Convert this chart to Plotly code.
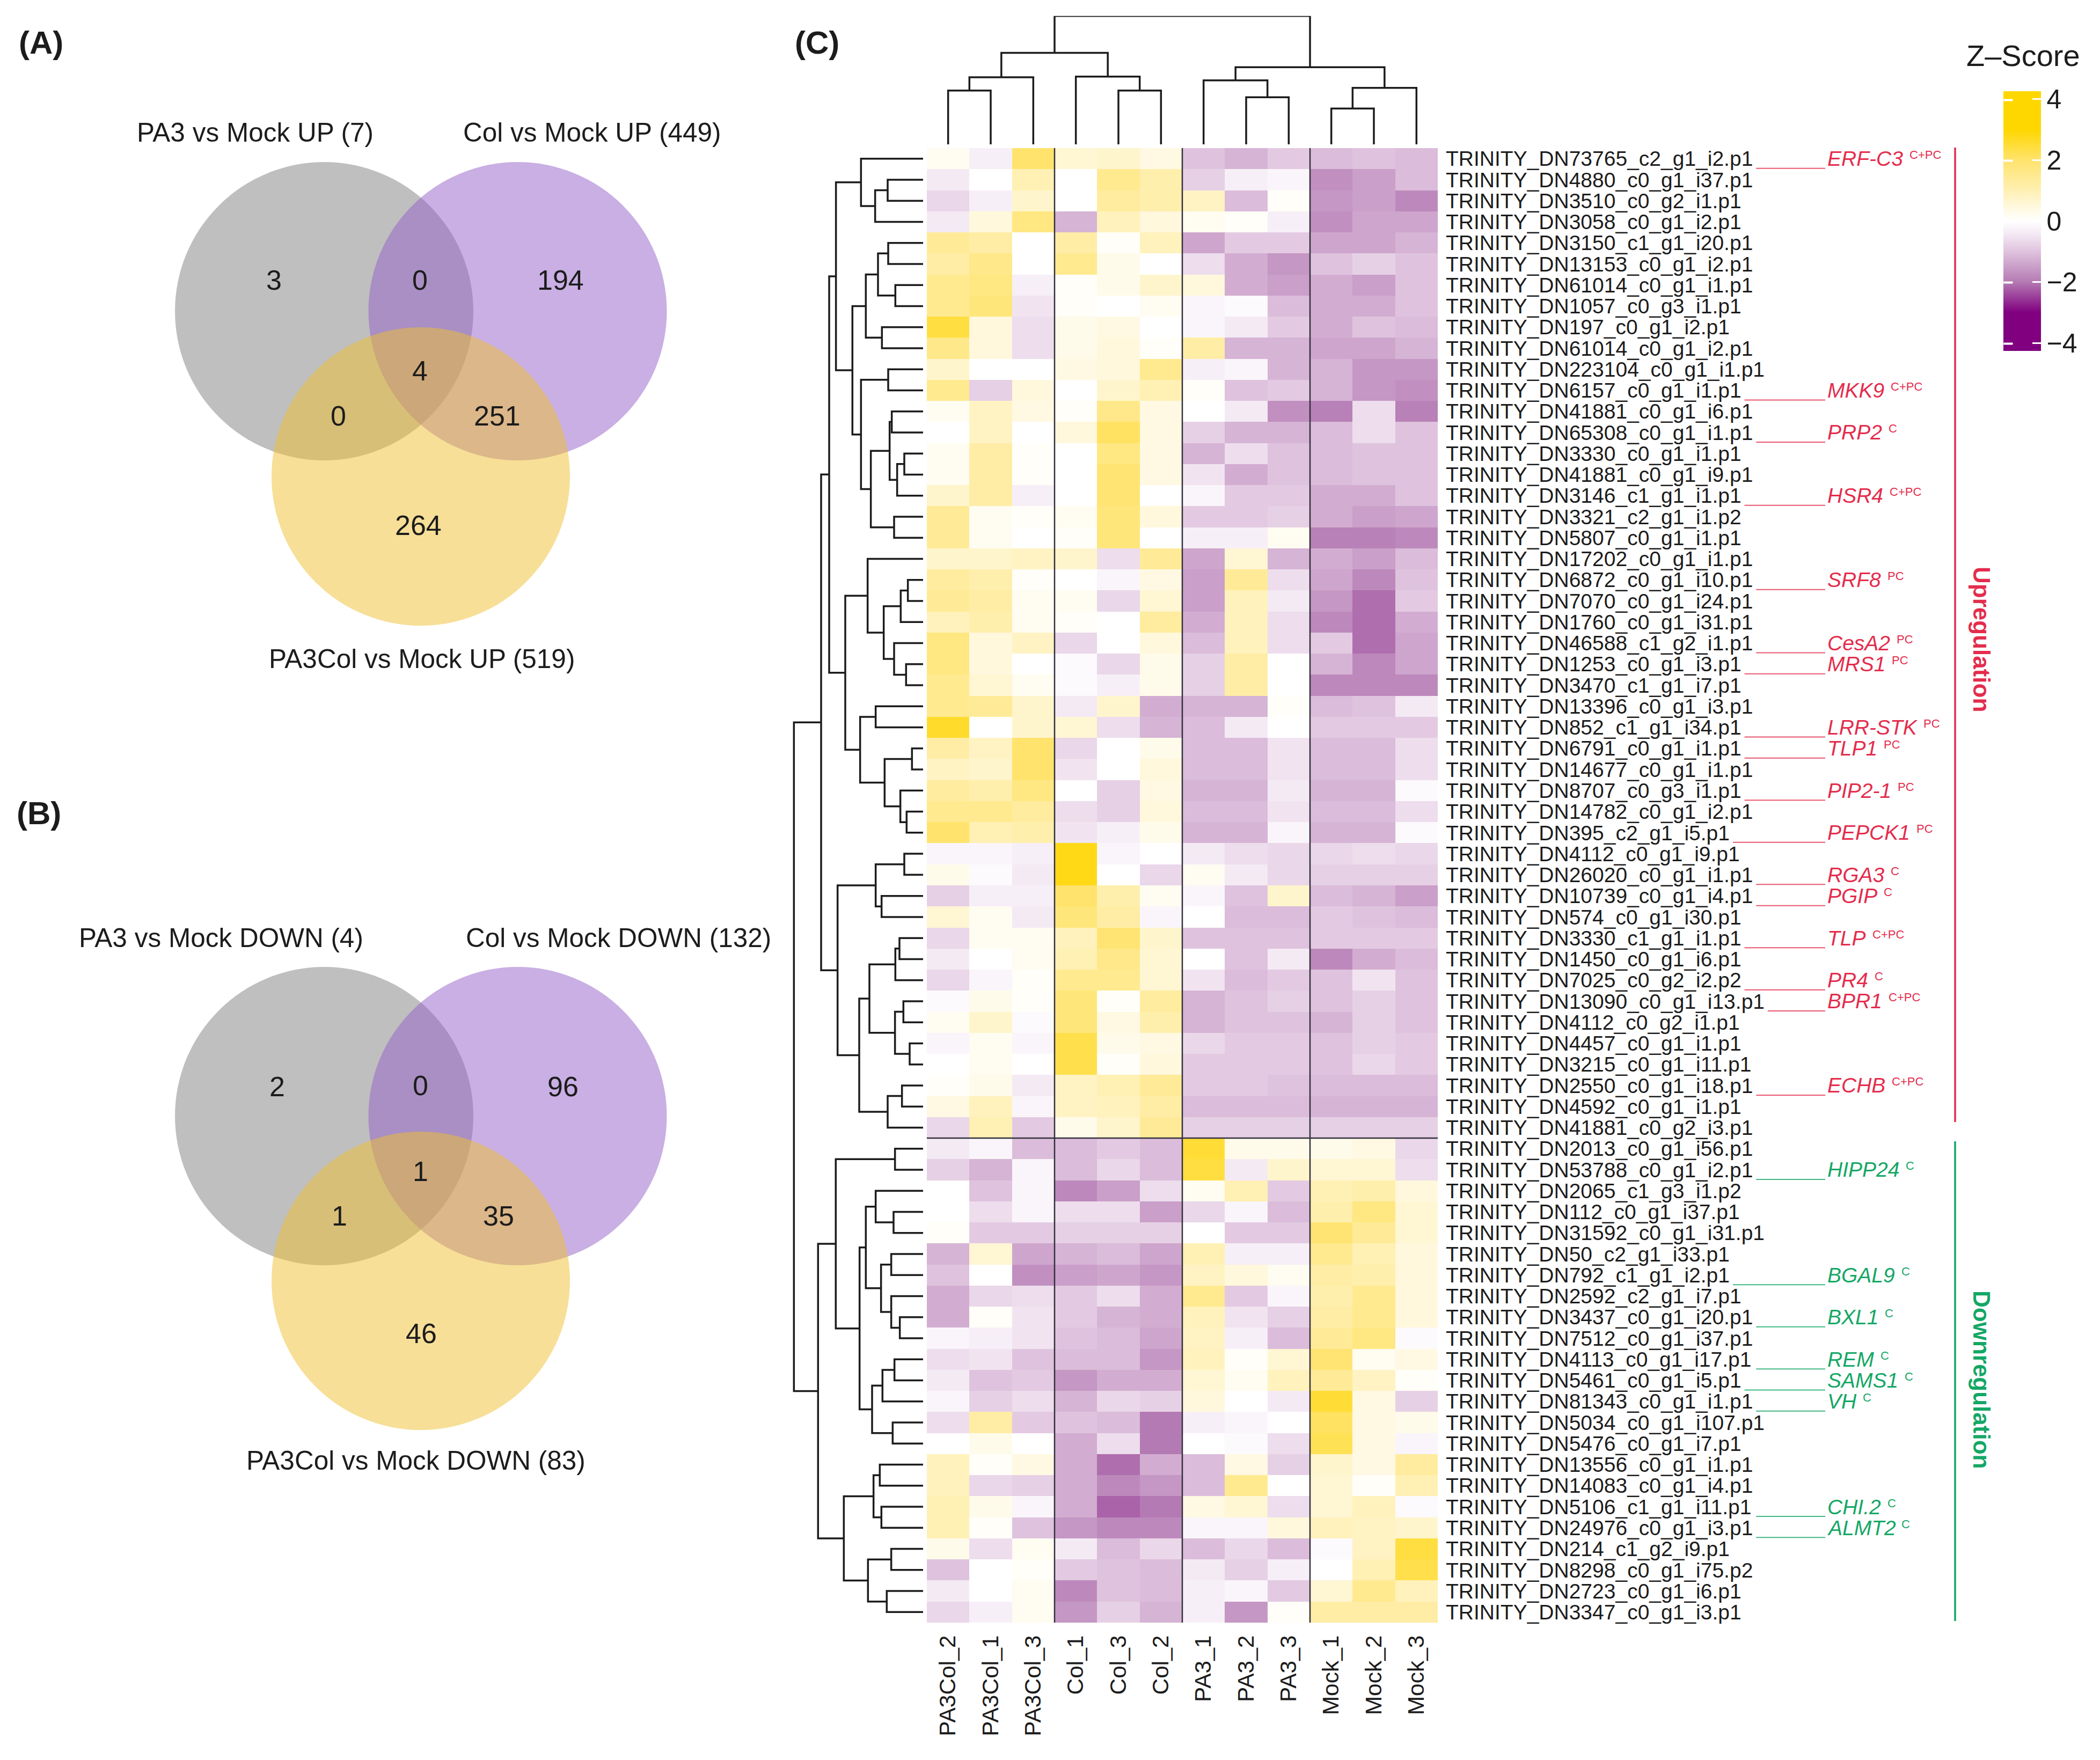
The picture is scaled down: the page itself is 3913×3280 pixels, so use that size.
import plotly.graph_objects as go

W, H = 3913, 3280

# ---------- data ----------
samples = ["PA3Col_2", "PA3Col_1", "PA3Col_3", "Col_1", "Col_3", "Col_2",
           "PA3_1", "PA3_2", "PA3_3", "Mock_1", "Mock_2", "Mock_3"]

transcripts = [
    "DN73765_c2_g1_i2.p1", "DN4880_c0_g1_i37.p1", "DN3510_c0_g2_i1.p1", "DN3058_c0_g1_i2.p1",
    "DN3150_c1_g1_i20.p1", "DN13153_c0_g1_i2.p1", "DN61014_c0_g1_i1.p1", "DN1057_c0_g3_i1.p1",
    "DN197_c0_g1_i2.p1", "DN61014_c0_g1_i2.p1", "DN223104_c0_g1_i1.p1", "DN6157_c0_g1_i1.p1",
    "DN41881_c0_g1_i6.p1", "DN65308_c0_g1_i1.p1", "DN3330_c0_g1_i1.p1", "DN41881_c0_g1_i9.p1",
    "DN3146_c1_g1_i1.p1", "DN3321_c2_g1_i1.p2", "DN5807_c0_g1_i1.p1", "DN17202_c0_g1_i1.p1",
    "DN6872_c0_g1_i10.p1", "DN7070_c0_g1_i24.p1", "DN1760_c0_g1_i31.p1", "DN46588_c1_g2_i1.p1",
    "DN1253_c0_g1_i3.p1", "DN3470_c1_g1_i7.p1", "DN13396_c0_g1_i3.p1", "DN852_c1_g1_i34.p1",
    "DN6791_c0_g1_i1.p1", "DN14677_c0_g1_i1.p1", "DN8707_c0_g3_i1.p1", "DN14782_c0_g1_i2.p1",
    "DN395_c2_g1_i5.p1", "DN4112_c0_g1_i9.p1", "DN26020_c0_g1_i1.p1", "DN10739_c0_g1_i4.p1",
    "DN574_c0_g1_i30.p1", "DN3330_c1_g1_i1.p1", "DN1450_c0_g1_i6.p1", "DN7025_c0_g2_i2.p2",
    "DN13090_c0_g1_i13.p1", "DN4112_c0_g2_i1.p1", "DN4457_c0_g1_i1.p1", "DN3215_c0_g1_i11.p1",
    "DN2550_c0_g1_i18.p1", "DN4592_c0_g1_i1.p1", "DN41881_c0_g2_i3.p1", "DN2013_c0_g1_i56.p1",
    "DN53788_c0_g1_i2.p1", "DN2065_c1_g3_i1.p2", "DN112_c0_g1_i37.p1", "DN31592_c0_g1_i31.p1",
    "DN50_c2_g1_i33.p1", "DN792_c1_g1_i2.p1", "DN2592_c2_g1_i7.p1", "DN3437_c0_g1_i20.p1",
    "DN7512_c0_g1_i37.p1", "DN4113_c0_g1_i17.p1", "DN5461_c0_g1_i5.p1", "DN81343_c0_g1_i1.p1",
    "DN5034_c0_g1_i107.p1", "DN5476_c0_g1_i7.p1", "DN13556_c0_g1_i1.p1", "DN14083_c0_g1_i4.p1",
    "DN5106_c1_g1_i11.p1", "DN24976_c0_g1_i3.p1", "DN214_c1_g2_i9.p1", "DN8298_c0_g1_i75.p2",
    "DN2723_c0_g1_i6.p1", "DN3347_c0_g1_i3.p1"]
row_labels = ["TRINITY_" + t for t in transcripts]

zscores = [
    [0.2, -0.3, 2.0, 0.6, 0.7, 0.4, -1.0, -1.2, -0.9, -1.1, -1.0, -1.1],
    [-0.4, 0, 1.0, 0, 1.5, 1.1, -0.8, -0.3, -0.2, -1.7, -1.5, -1.1],
    [-0.7, -0.3, 0.7, 0, 1.3, 1.1, 0.8, -1.1, 0.1, -1.6, -1.5, -1.8],
    [-0.4, 0.5, 1.7, -1.2, 0.9, 0.5, 0.2, 0.1, -0.3, -1.7, -1.4, -1.4],
    [1.4, 1.2, 0, 1.2, 0.1, 0.9, -1.4, -0.9, -0.9, -1.4, -1.4, -1.2],
    [1.2, 1.6, 0, 1.5, 0.3, 0, -0.6, -1.3, -1.6, -1.0, -0.8, -1.0],
    [1.5, 1.7, -0.3, 0.1, 0.3, 0.7, 0.5, -1.3, -1.5, -1.3, -1.5, -1.0],
    [1.5, 1.8, -0.5, 0.1, 0, 0.2, -0.2, -0.1, -1.1, -1.3, -1.3, -1.0],
    [2.4, 0.5, -0.6, 0.3, 0.4, 0, -0.2, -0.4, -0.9, -1.3, -1.0, -1.1],
    [1.6, 0.5, -0.6, 0.3, 0.5, 0.1, 1.2, -1.2, -1.2, -1.4, -1.4, -1.2],
    [0.7, 0, 0, 0.4, 0.5, 1.5, -0.3, -0.2, -1.2, -1.2, -1.6, -1.6],
    [1.5, -0.8, 0.5, 0, 0.7, 1.0, 0.1, -1.0, -0.9, -1.2, -1.6, -1.7],
    [0.2, 0.8, 0.4, 0.1, 1.6, 0.4, 0, -0.4, -1.7, -1.9, -0.6, -1.9],
    [0, 0.8, 0, 0.5, 2.1, 0.4, -0.8, -1.2, -1.2, -1.1, -0.6, -1.0],
    [0.2, 1.2, 0.1, 0, 1.7, 0.4, -1.2, -0.6, -1.0, -1.1, -1.0, -1.0],
    [0.2, 1.2, 0.1, 0, 1.9, 0.4, -0.5, -1.3, -1.0, -1.1, -1.0, -1.0],
    [0.7, 1.2, -0.3, 0, 1.9, 0, -0.2, -0.9, -0.9, -1.3, -1.3, -1.0],
    [1.4, 0.2, 0.1, 0.2, 1.8, 0.5, -0.9, -0.9, -0.8, -1.3, -1.5, -1.4],
    [1.4, 0.2, 0, 0.1, 1.8, 0, -0.3, -0.3, 0.2, -1.9, -1.9, -1.8],
    [0.7, 0.7, 0.8, 0.7, -0.6, 1.4, -1.4, 0.6, -1.2, -1.3, -1.5, -1.1],
    [1.3, 1.1, 0.1, 0, -0.2, 0.4, -1.5, 1.4, -0.6, -1.4, -1.8, -1.0],
    [1.4, 1.2, 0.2, 0.2, -0.7, 0.6, -1.5, 0.9, -0.4, -1.6, -2.1, -0.9],
    [0.9, 1.1, 0.2, 0.1, 0, 1.3, -1.3, 0.9, -0.6, -1.8, -2.1, -1.3],
    [1.7, 0.5, 0.8, -0.7, 0, 0.5, -1.1, 0.9, -0.6, -0.9, -2.1, -1.4],
    [1.7, 0.5, 0, -0.1, -0.7, 0.3, -0.8, 1.2, 0, -1.2, -1.8, -1.4],
    [1.5, 0.6, 0.2, -0.1, -0.3, 0.3, -0.8, 1.2, 0, -1.8, -1.8, -1.8],
    [1.5, 1.4, 0.7, -0.4, 0.7, -1.3, -1.2, -1.2, 0.1, -1.1, -1.0, -0.4],
    [2.6, 0, 0.7, 0.6, -0.6, -1.2, -1.1, -0.4, 0, -0.9, -0.9, -0.9],
    [1.2, 0.8, 2.0, -0.7, 0, 0.3, -1.1, -1.1, -0.5, -1.1, -1.1, -0.6],
    [0.8, 0.7, 2.0, -0.5, 0, 0.5, -1.1, -1.1, -0.5, -1.1, -1.1, -0.6],
    [1.3, 1.1, 1.7, 0, -0.8, 0.4, -1.2, -1.2, -0.4, -1.2, -1.2, -0.1],
    [1.5, 1.5, 1.3, -0.6, -0.8, 0.5, -1.1, -1.1, -0.5, -1.1, -1.1, -0.6],
    [2.0, 1.0, 1.1, -0.5, -0.3, 0.3, -1.2, -1.2, -0.2, -1.2, -1.2, -0.1],
    [-0.2, -0.2, -0.3, 2.8, -0.2, 0, -0.4, -0.6, -0.7, -0.7, -0.6, -0.7],
    [0.3, -0.1, -0.4, 2.8, 0, -0.7, 0.2, -0.4, -0.7, -0.8, -0.8, -0.8],
    [-0.8, -0.3, -0.3, 2.0, 1.1, 0.2, -0.2, -1.0, 0.7, -1.1, -1.2, -1.5],
    [0.6, 0.2, -0.4, 1.8, 1.2, -0.2, 0, -1.1, -1.1, -0.9, -1.0, -1.1],
    [-0.7, 0.2, 0.2, 0.9, 1.9, 0.7, -1.0, -1.0, -1.0, -0.9, -0.9, -0.9],
    [-0.4, 0, 0.2, 1.0, 1.6, 0.6, 0, -1.0, -0.4, -1.8, -1.3, -1.1],
    [-0.7, -0.2, 0.1, 1.5, 1.5, 0.6, -0.5, -1.1, -0.9, -1.0, -0.5, -1.0],
    [-0.1, 0.3, 0.1, 1.8, 0.1, 1.3, -1.2, -1.0, -0.8, -1.0, -0.8, -1.0],
    [0.2, 0.7, -0.1, 1.8, 0.4, 1.1, -1.2, -1.0, -1.0, -1.2, -0.8, -1.0],
    [-0.2, 0.2, -0.2, 2.3, 0.3, 0.4, -0.7, -0.9, -0.9, -1.0, -0.8, -0.9],
    [0, 0.2, 0, 2.3, 0.1, 0.5, -0.9, -0.9, -0.9, -1.0, -0.7, -0.9],
    [0.1, 0.3, -0.4, 0.8, 1.0, 1.4, -0.9, -0.9, -1.0, -1.1, -1.1, -1.1],
    [0.4, 0.9, -0.2, 0.8, 0.9, 1.2, -1.1, -1.1, -1.1, -1.2, -1.2, -1.2],
    [-0.7, 1.0, -0.9, 0.3, 0.7, 1.4, -0.8, -0.8, -0.8, -0.8, -0.8, -0.8],
    [-0.4, -0.2, -1.1, -1.1, -0.9, -1.1, 2.5, 0.3, 0.3, 0.3, 0.4, -0.7],
    [-0.8, -1.2, -0.2, -1.1, -0.7, -1.1, 2.4, -0.4, 0.7, 0.6, 0.6, -0.6],
    [0, -1.0, -0.2, -1.8, -1.5, -0.6, 0.2, 1.0, -0.9, 1.0, 1.1, 0.5],
    [0, -0.6, -0.2, -0.6, -0.6, -1.5, -0.7, -0.2, -1.1, 1.1, 1.7, 0.6],
    [0.1, -0.9, -0.9, -0.8, -0.8, -0.8, 0, -0.9, -0.9, 1.9, 1.4, 0.6],
    [-1.2, 0.6, -1.4, -1.2, -1.1, -1.4, 1.0, -0.3, -0.3, 1.5, 1.0, 0.5],
    [-1.0, 0, -1.7, -1.5, -1.4, -1.6, 0.8, 0.5, 0.2, 1.2, 1.1, 0.5],
    [-1.3, -0.7, -0.6, -0.9, -0.6, -1.3, 1.5, -0.9, -0.2, 1.1, 1.5, 0.5],
    [-1.3, 0.1, -0.5, -0.9, -1.2, -1.3, 0.9, -0.5, -0.8, 1.2, 1.5, 0.5],
    [-0.2, -0.3, -0.5, -1.0, -1.1, -1.4, 0.8, -0.3, -1.1, 1.4, 1.7, -0.1],
    [-0.6, -0.5, -1.0, -1.1, -1.1, -1.6, 0.9, 0.1, 0.6, 1.9, 0.2, 0.4],
    [-0.4, -1.0, -0.9, -1.6, -1.3, -1.3, 0.6, 0.2, 0.9, 1.4, 0.8, 0.1],
    [-0.2, -0.8, -0.6, -1.2, -0.7, -0.8, 0.5, 0, -0.4, 2.5, 0.4, -0.8],
    [-0.6, 1.2, -0.9, -1.0, -1.1, -2.0, -0.3, -0.2, 0, 2.1, 0.4, 0.3],
    [0, 0.3, 0, -1.3, -0.6, -2.0, 0, -0.1, -0.6, 2.2, 0.4, -0.2],
    [0.9, 0.1, 0.4, -1.3, -2.1, -1.3, -1.1, 0.4, -0.8, 0.7, 0.4, 1.3],
    [0.9, -0.7, -0.8, -1.3, -1.8, -1.6, -1.1, 1.5, 0, 0.6, 0.1, 1.0],
    [1.0, 0.3, -0.2, -1.3, -2.2, -2.0, 0.4, 0.6, -0.6, 0.6, 0.9, -0.1],
    [1.0, 0.1, -1.0, -1.6, -1.8, -1.8, -0.2, -0.2, 0.5, 0.9, 0.8, 0.7],
    [0.3, -0.6, 0.2, -0.4, -1.1, -0.7, -1.1, -0.7, -1.1, -0.1, 0.8, 2.4],
    [-1.0, 0, 0.1, -0.9, -1.0, -1.1, -0.4, -0.8, -0.3, 0, 1.0, 2.3],
    [-0.4, 0, 0.2, -1.8, -1.0, -1.1, -0.3, -0.2, -0.9, 0.6, 1.5, 0.9],
    [-0.7, -0.3, 0.2, -1.6, -0.8, -1.2, -0.3, -1.6, 0.1, 1.2, 1.2, 1.2],
]

colorbar_ticks = [-4, -2, 0, 2, 4]
colorbar_ticktext = ["\u22124", "\u22122", "0", "2", "4"]

gene_rows = [0, 11, 13, 16, 20, 23, 24, 27, 28, 30, 32, 34, 35, 37, 39, 40, 44,
             48, 53, 55, 57, 58, 59, 64, 65]
gene_names = ["ERF-C3", "MKK9", "PRP2", "HSR4", "SRF8", "CesA2", "MRS1", "LRR-STK", "TLP1",
              "PIP2-1", "PEPCK1", "RGA3", "PGIP", "TLP", "PR4", "BPR1", "ECHB",
              "HIPP24", "BGAL9", "BXL1", "REM", "SAMS1", "VH", "CHI.2", "ALMT2"]
gene_evidence = ["C+PC", "C+PC", "C", "C+PC", "PC", "PC", "PC", "PC", "PC", "PC", "PC", "C", "C",
                 "C+PC", "C", "C+PC", "C+PC", "C", "C", "C", "C", "C", "C", "C", "C"]

# Dendrograms: (merge height, child, child); integers are leaves
col_tree = (341,
            (243,
             (178, (143, 0, 1), 2),
             (180, 3, (143, 4, 5))),
            (205,
             (170, 6, (125, 7, 8)),
             (150, (95, 9, 10), 11)))

t1 = (347, 0, (268, (198, 1, 2), 3))
t2 = (320, (252, (195, 4, 5), (155, 6, 7)), (230, 8, 9))
t3 = (347, (195, 10, 11), (292, (187, (175, 12, 13), (145, (105, 14, 15), 16)), (162, 17, 18)))
t4 = (310, 19, (220, (125, (85, 20, 21), 22), (162, 23, (95, 24, 25))))
t5 = (352, (265, 26, 27), (215, (62, 28, 29), (127, 30, (92, 31, 32))))
t6 = (478, (265, (105, 33, 34), (232, 35, 36)),
      (357, (300, (155, (132, 37, 38), 39), (157, (110, 40, 41), (75, 42, 43))),
       (198, (118, 44, 45), 46)))
d1 = (488, (157, 47, 48),
      (355, (320, (265, 49, (165, 50, 51)), (235, (178, 52, 53), (178, 54, (130, 55, 56)))),
       (285, (227, (160, 57, 58), 59), (170, 60, 61))))
d2 = (443, (277, (242, 62, 63), (233, 64, 65)), (308, (178, 66, 67), (203, 68, 69)))
row_tree = (722,
            (570, (525, (487, t1, (395, t2, t3)), (435, t4, t5)), t6),
            (587, d1, d2))

# Venn diagrams
venn_a_titles = ["PA3 vs Mock UP (7)", "Col vs Mock UP (449)", "PA3Col vs Mock UP (519)"]
venn_a_counts = [3, 0, 194, 4, 0, 251, 264]
venn_b_titles = ["PA3 vs Mock DOWN (4)", "Col vs Mock DOWN (132)", "PA3Col vs Mock DOWN (83)"]
venn_b_counts = [2, 0, 96, 1, 1, 35, 46]

# ---------- layout constants (pixels of the page) ----------
HM_L, HM_R, HM_T, HM_B = 1727, 2679, 276, 3024
INK = "#1c1c1c"
RED = "#E42C4C"
GREEN = "#14A765"
FONT = "Liberation Sans"

venn_a_circles = [(604, 580), (964.5, 580), (784, 888)]
venn_b_circles = [(604, 2080), (964.5, 2080), (784, 2387)]
venn_r = 278
venn_fill = ["rgba(127,127,127,0.5)", "rgba(147,95,199,0.5)", "rgba(239,191,47,0.5)"]
venn_a_title_xy = [(475, 246), (1103, 246), (786, 1227)]
venn_b_title_xy = [(412, 1747), (1152, 1747), (775, 2721)]
venn_a_count_xy = [(510, 522), (782, 522), (1044, 522), (782, 691), (630, 775), (926, 775), (779, 979)]
venn_b_count_xy = [(516, 2025), (783, 2023), (1049, 2025), (783, 2183), (632, 2266), (929, 2266), (785, 2485)]


def px_x(p):
    return p / W


def px_y(p):
    return 1 - p / H


def segments(node, coords_out):
    """Returns (leaf position, height) of a node and appends its elbow to coords_out."""
    if isinstance(node, int):
        return node, 0
    h, a, b = node
    pa, ha = segments(a, coords_out)
    pb, hb = segments(b, coords_out)
    coords_out.append(([pa, pa, pb, pb, None], [ha, h, h, hb, None]))
    return (pa + pb) / 2, h


fig = go.Figure()

# Heatmap + real colour bar
ZMAX = 4.26
stops = [(-ZMAX, "#800080"), (-3, "#800080"), (-2, "#B47AB3"), (-1, "#DFC3DE"), (-0.4, "#F4EAF4"),
         (0, "#FFFFFF"), (0.5, "#FFF8DC"), (1, "#FFF0B4"), (2, "#FFE36C"), (3, "#FFD700"), (ZMAX, "#FFD700")]
colorscale = [[(v + ZMAX) / (2 * ZMAX), c] for v, c in stops]

fig.add_trace(go.Heatmap(
    z=zscores, x=list(range(len(samples))), y=list(range(len(row_labels))),
    zmin=-ZMAX, zmax=ZMAX, colorscale=colorscale, xaxis="x", yaxis="y", hoverongaps=False,
    colorbar=dict(
        x=px_x(3733), xanchor="left", y=px_y(412), yanchor="middle",
        lenmode="pixels", len=484, thicknessmode="pixels", thickness=70,
        xpad=0, ypad=0, outlinewidth=0, borderwidth=0,
        tickmode="array", tickvals=colorbar_ticks, ticktext=colorbar_ticktext,
        ticks="inside", ticklen=16, tickwidth=3, tickcolor="white",
        tickfont=dict(family=FONT, size=50, color=INK),
    ),
))

# Column dendrogram
col_seg = []
segments(col_tree, col_seg)
xs, ys = [], []
for sx, sy in col_seg:
    xs += sx
    ys += sy
fig.add_trace(go.Scatter(x=xs, y=ys, mode="lines", xaxis="x", yaxis="y2", hoverinfo="skip",
                         line=dict(color=INK, width=3.5), showlegend=False))

# Row dendrogram
row_seg = []
segments(row_tree, row_seg)
xs, ys = [], []
for sy, sx in row_seg:
    xs += sx
    ys += sy
fig.add_trace(go.Scatter(x=xs, y=ys, mode="lines", xaxis="x3", yaxis="y", hoverinfo="skip",
                         line=dict(color=INK, width=3.5), showlegend=False))

# An invisible anchor so that the page-pixel axes exist
fig.add_trace(go.Scatter(x=[0, W], y=[0, H], mode="markers", xaxis="x4", yaxis="y4",
                         marker=dict(opacity=0), hoverinfo="skip", showlegend=False))

shapes = []
annotations = []


def page_text(x, y, text, size, color=INK, bold=False, angle=0, xanchor="center"):
    annotations.append(dict(
        x=x, y=y, xref="x4", yref="y4", text=f"<b>{text}</b>" if bold else text, showarrow=False,
        font=dict(family=FONT, size=size, color=color), textangle=angle,
        xanchor=xanchor, yanchor="middle", borderpad=0, borderwidth=0))


# Venn diagrams
for circles, titles, title_xy, counts, count_xy in [
    (venn_a_circles, venn_a_titles, venn_a_title_xy, venn_a_counts, venn_a_count_xy),
    (venn_b_circles, venn_b_titles, venn_b_title_xy, venn_b_counts, venn_b_count_xy),
]:
    for (cx, cy), fill in zip(circles, venn_fill):
        shapes.append(dict(type="circle", xref="x4", yref="y4", x0=cx - venn_r, x1=cx + venn_r,
                           y0=cy - venn_r, y1=cy + venn_r, fillcolor=fill, line=dict(width=0)))
    for t, (x, y) in zip(titles, title_xy):
        page_text(x, y, t, 49.5)
    for c, (x, y) in zip(counts, count_xy):
        page_text(x, y, str(c), 52)

page_text(76, 79, "(A)", 60, bold=True)
page_text(72, 1515, "(B)", 60, bold=True)
page_text(1522, 79, "(C)", 60, bold=True)

# Separators in the heatmap
for v in [2.5, 5.5, 8.5]:
    shapes.append(dict(type="line", xref="x", yref="y", x0=v, x1=v, y0=-0.5, y1=69.5,
                       line=dict(color="#33303c", width=2.5)))
shapes.append(dict(type="line", xref="x", yref="y", x0=-0.5, x1=11.5, y0=46.5, y1=46.5,
                   line=dict(color="#33303c", width=2.5)))

# Gene call-outs
char_w = {"T": .611, "R": .722, "I": .278, "N": .722, "Y": .667, "D": .722, "_": .556,
          "c": .5, "g": .556, "i": .222, "p": .556, ".": .278,
          "A": .667, "B": .667, "C": .722, "E": .667, "F": .611, "G": .778, "H": .722, "K": .667,
          "L": .556, "M": .833, "P": .667, "S": .667, "V": .667, "X": .667,
          "e": .556, "s": .5, "-": .333}
LABEL_X = 2696
LABEL_SIZE = 39
GENE_X = 3405


def text_w(s, size):
    return sum(char_w.get(ch, .556) for ch in s) * size


for r, name, ev in zip(gene_rows, gene_names, gene_evidence):
    color = RED if r < 47 else GREEN
    y_px = HM_T + (r + 0.5) * (HM_B - HM_T) / 70
    shapes.append(dict(type="line", xref="x4", yref="y4", x0=LABEL_X + text_w(row_labels[r], LABEL_SIZE) + 4,
                       x1=3401, y0=y_px + 18, y1=y_px + 18, line=dict(color=color, width=2), opacity=0.8))
    page_text(GENE_X, y_px, f"<i>{name}</i>", 39, color=color, xanchor="left")
    page_text(GENE_X + text_w(name, 39) + 12, y_px - 7, ev, 22, color=color, xanchor="left")

# Side brackets
shapes.append(dict(type="line", xref="x4", yref="y4", x0=3643, x1=3643, y0=275, y1=2091,
                   line=dict(color=RED, width=3.5)))
shapes.append(dict(type="line", xref="x4", yref="y4", x0=3643, x1=3643, y0=2127, y1=3021,
                   line=dict(color=GREEN, width=3.5)))
page_text(3693, 1191, "Upregulation", 44, color=RED, bold=True, angle=90)
page_text(3693, 2571, "Downregulation", 44, color=GREEN, bold=True, angle=90)

# Colour bar title and left tick dashes
page_text(3770, 103, "Z\u2013Score", 56)
for t in colorbar_ticks:
    y_t = 413 - t * 56.75
    annotations.append(dict(x=3733, y=y_t, xref="x4", yref="y4", xanchor="left", yanchor="middle",
                            text=" ", showarrow=False, width=16, height=3, bgcolor="white",
                            borderpad=0, font=dict(size=2)))

fig.update_layout(
    width=W, height=H, margin=dict(l=0, r=0, t=0, b=0, autoexpand=False),
    paper_bgcolor="white", plot_bgcolor="rgba(0,0,0,0)", showlegend=False,
    font=dict(family=FONT, color=INK),
    xaxis=dict(domain=[px_x(HM_L), px_x(HM_R)], range=[-0.5, 11.5], anchor="y", side="bottom",
               tickmode="array", tickvals=list(range(12)), ticktext=samples, tickangle=-90,
               ticks="", ticklabelstandoff=14, tickfont=dict(family=FONT, size=42.5, color=INK),
               showgrid=False, zeroline=False, showline=False),
    yaxis=dict(domain=[px_y(HM_B), px_y(HM_T)], range=[69.5, -0.5], anchor="x", side="right",
               tickmode="array", tickvals=list(range(70)), ticktext=row_labels,
               ticks="", ticklabelstandoff=14, tickfont=dict(family=FONT, size=LABEL_SIZE, color=INK),
               showgrid=False, zeroline=False, showline=False),
    yaxis2=dict(domain=[px_y(269), px_y(29.7)], range=[0, 341], anchor="x", visible=False),
    xaxis3=dict(domain=[px_x(1400), px_x(1720)], range=[960, 0], anchor="y", visible=False),
    xaxis4=dict(domain=[0, 1], range=[0, W], anchor="y4", visible=False),
    yaxis4=dict(domain=[0, 1], range=[H, 0], anchor="x4", visible=False),
    shapes=shapes, annotations=annotations,
)

fig.write_html("out.html", config={"displayModeBar": False},
               post_script="document.body.style.margin='0';")
